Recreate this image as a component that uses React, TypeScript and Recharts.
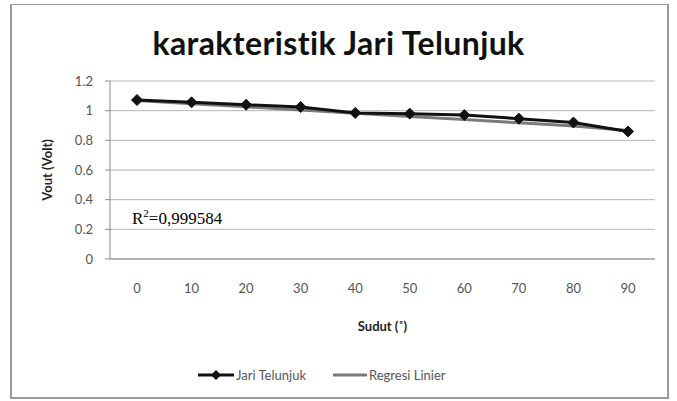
import React from 'react';
import { LineChart, Line, XAxis, YAxis, CartesianGrid } from 'recharts';

const categories = ['0', '10', '20', '30', '40', '50', '60', '70', '80', '90'];
const jariTelunjuk = [1.072, 1.056, 1.04, 1.025, 0.985, 0.98, 0.97, 0.946, 0.92, 0.86];
const regresiLinier = [1.068, 1.047, 1.026, 1.004, 0.982, 0.96, 0.94, 0.918, 0.896, 0.866];
const yTicks = [0, 0.2, 0.4, 0.6, 0.8, 1, 1.2];

const data = categories.map((c, i) => ({ sudut: c, jari: jariTelunjuk[i], regresi: regresiLinier[i] }));

const FONT = 'Lato, "Open Sans", sans-serif';

const Diamond = (props: any) => {
  const { cx, cy } = props;
  if (cx == null || cy == null) return null;
  const s = 5.5;
  return <polygon points={`${cx},${cy - s} ${cx + s},${cy} ${cx},${cy + s} ${cx - s},${cy}`} fill="#111" stroke="#111" />;
};

export default function App() {
  return (
    <div style={{ position: 'absolute', left: 0, top: 0, width: 677, height: 401, background: '#fff', fontFamily: FONT }}>
      <div style={{ position: 'absolute', left: 10, top: 4, width: 659, height: 395, border: '2px solid #9a9a9a', borderTopWidth: 1, boxSizing: 'border-box' }} />
      <div style={{ position: 'absolute', left: 0, top: 23, width: 677, textAlign: 'center', fontSize: 32, fontWeight: 700, color: '#111', letterSpacing: 0.4 }}>
        karakteristik Jari Telunjuk
      </div>
      <LineChart width={677} height={401} data={data} margin={{ top: 81, right: 22, bottom: 112, left: 0 }} style={{ position: 'absolute', left: 0, top: 0 }}>
        <CartesianGrid horizontal vertical={false} stroke="#b5b5b5" strokeWidth={1} />
        <XAxis
          dataKey="sudut"
          height={30}
          padding={{ left: 27, right: 27 }}
          axisLine={{ stroke: '#8a8a8a' }}
          tickLine={false}
          tick={{ fill: '#555', fontSize: 13, fontFamily: FONT }}
          tickMargin={19}
          label={{ value: 'Sudut (˚)', position: 'insideBottom', offset: -42, fill: '#222', fontSize: 13, fontWeight: 700, fontFamily: FONT }}
        />
        <YAxis
          width={110}
          domain={[0, 1.2]}
          ticks={yTicks}
          axisLine={{ stroke: '#8a8a8a' }}
          tickLine={{ stroke: '#8a8a8a' }}
          tickSize={5}
          tickMargin={12}
          tick={{ fill: '#555', fontSize: 13, fontFamily: FONT }}
          label={{ value: 'Vout (Volt)', angle: -90, position: 'insideLeft', offset: 47, fill: '#222', fontSize: 13, fontWeight: 700, fontFamily: FONT, style: { textAnchor: 'middle' } }}
        />
        <Line dataKey="regresi" stroke="#7a7a7a" strokeWidth={3} dot={false} isAnimationActive={false} />
        <Line dataKey="jari" stroke="#111" strokeWidth={3} dot={<Diamond />} isAnimationActive={false} />
      </LineChart>
      <div style={{ position: 'absolute', left: 132, top: 207, fontFamily: '"Liberation Serif", "DejaVu Serif", serif', fontSize: 17, color: '#000' }}>
        R<sup style={{ fontSize: 11 }}>2</sup>=0,999584
      </div>
      <div style={{ position: 'absolute', left: 196, top: 367, display: 'flex', alignItems: 'center', fontSize: 13, color: '#555' }}>
        <svg width={40} height={14} style={{ display: 'block' }}>
          <line x1={2} y1={7} x2={38} y2={7} stroke="#111" strokeWidth={3} />
          <polygon points="20,2 25,7 20,12 15,7" fill="#111" />
        </svg>
        <span>Jari Telunjuk</span>
        <svg width={38} height={14} style={{ display: 'block', marginLeft: 25 }}>
          <line x1={2} y1={7} x2={36} y2={7} stroke="#7a7a7a" strokeWidth={3} />
        </svg>
        <span>Regresi Linier</span>
      </div>
    </div>
  );
}
